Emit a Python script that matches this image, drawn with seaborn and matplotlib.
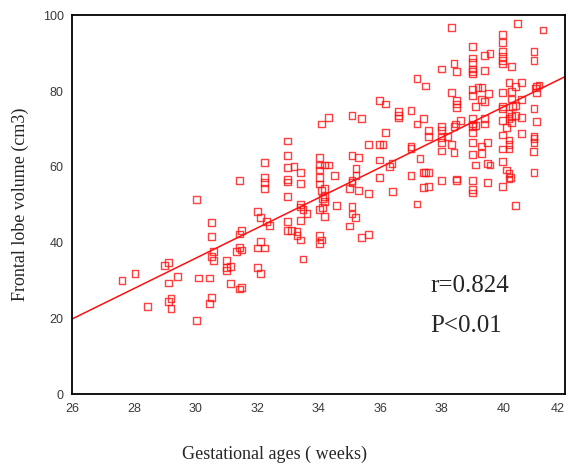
import matplotlib
matplotlib.use("Agg")
import matplotlib.pyplot as plt
import pandas as pd
import seaborn as sns

# --- Data (gestational age, frontal lobe volume) ---
ga_weeks = [
    27.62, 28.04, 28.45, 29.00, 29.14, 29.14, 29.21, 29.14, 29.21, 29.41,
    30.03, 30.03, 30.11, 30.45, 30.45, 30.51, 30.51, 30.51, 30.51, 30.60,
    30.60, 31.00, 31.00, 31.00, 31.13, 31.13, 31.34, 31.42, 31.42, 31.50,
    31.50, 31.42, 31.50, 31.42, 32.02, 32.10, 32.02, 32.10, 32.32, 32.40,
    32.10, 32.02, 32.23, 32.23, 32.23, 32.23, 32.23, 33.00, 33.00, 33.00,
    33.20, 33.40, 33.40, 33.00, 33.00, 33.00, 33.00, 33.00, 33.13, 33.30,
    33.30, 33.40, 33.49, 33.40, 33.40, 33.49, 33.62, 33.40,
    34.31, 34.10, 34.02, 34.02, 34.18, 34.31, 34.02, 34.02, 34.02, 34.10,
    34.18, 34.18, 34.13, 34.19, 34.02, 34.13, 34.19, 34.59, 34.02, 34.10,
    34.02, 34.51,
    35.08, 35.40, 35.08, 35.29, 35.21, 35.21, 35.08, 35.08, 35.00, 35.29,
    35.61, 35.08, 35.08, 35.20, 35.00, 35.40, 35.61, 35.61, 35.98, 36.09,
    35.98, 36.18, 36.18, 35.98, 36.38, 36.30, 35.98, 36.39,
    36.60, 36.60, 36.60, 37.00, 37.19, 37.41, 37.19, 37.48, 37.56, 37.56,
    37.00, 37.00, 37.29, 37.41, 37.48, 37.56, 37.00, 37.56, 37.41, 37.19,
    38.30, 37.98, 38.39, 38.47, 38.30, 38.47, 38.47, 38.47, 38.60, 38.43,
    38.39, 37.98, 37.98, 38.19, 37.98, 37.98, 38.30, 37.98, 38.39, 38.47,
    38.47, 37.98,
    39.00, 39.00, 39.00, 39.00, 39.00, 39.00, 39.37, 39.56, 39.37, 39.00,
    39.00, 39.17, 39.30, 39.50, 39.28, 39.37, 39.08, 39.00, 39.00, 39.00,
    39.08, 39.37, 39.37, 39.00, 39.00, 39.48, 39.28, 39.00, 39.28, 39.08,
    39.48, 39.56, 39.00, 39.48, 39.00, 39.00,
    40.46, 41.28, 39.97, 39.97, 39.97, 39.97, 39.97, 39.97, 40.25, 40.99,
    40.99, 39.97, 40.18, 40.38, 40.58, 40.25, 40.25, 40.58, 39.97, 39.97,
    40.38, 40.30, 41.07, 41.15, 41.07, 41.04, 40.99, 40.18, 40.25, 40.18,
    40.38, 40.58, 39.97, 40.25, 40.09, 41.07, 40.58, 39.97, 40.18, 40.18,
    40.18, 39.97, 40.99, 40.99, 40.99, 40.98, 40.99, 39.97, 40.09, 40.18,
    40.18, 40.22, 39.97, 40.38,
]
volume_cm3 = [
    30.1, 31.8, 23.2, 34.1, 34.8, 29.4, 25.2, 24.5, 22.6, 31.1,
    51.5, 19.6, 30.7, 30.7, 23.9, 25.5, 45.3, 41.7, 36.4, 37.6,
    35.4, 35.4, 33.5, 32.7, 33.8, 29.2, 37.7, 38.7, 42.3, 43.3,
    38.1, 27.8, 28.1, 56.4, 33.4, 31.8, 48.2, 46.7, 45.7, 44.6,
    40.3, 38.6, 38.6, 61.1, 57.3, 55.8, 54.2, 66.8, 63.1, 59.9,
    60.2, 58.6, 55.6, 56.7, 56.0, 52.2, 45.7, 43.3, 43.3, 43.0,
    41.9, 40.7, 35.7, 50.0, 49.4, 48.7, 47.7, 45.9,
    73.0, 71.3, 62.5, 60.5, 60.5, 60.5, 59.2, 57.1, 55.5, 53.8,
    54.2, 52.1, 51.6, 50.8, 48.7, 49.3, 47.0, 49.9, 42.0, 40.7,
    39.8, 57.8,
    73.6, 72.7, 63.1, 62.5, 59.5, 57.8, 56.5, 55.8, 54.2, 53.8,
    52.9, 49.6, 47.6, 46.7, 44.4, 41.4, 42.1, 66.0, 66.0, 66.0,
    77.6, 76.6, 69.0, 61.8, 60.8, 60.0, 57.2, 53.6,
    74.6, 73.6, 72.9, 74.9, 71.3, 72.7, 83.2, 81.3, 69.6, 68.1,
    65.4, 64.9, 62.2, 58.5, 58.5, 58.5, 57.8, 54.9, 54.6, 50.2,
    96.8, 85.8, 87.2, 85.2, 79.6, 77.4, 76.6, 75.7, 72.3, 71.3,
    70.6, 70.6, 69.7, 68.0, 67.7, 66.4, 66.0, 64.2, 63.8, 56.8,
    56.4, 56.4,
    91.8, 88.7, 87.6, 85.8, 85.1, 84.5, 89.4, 89.9, 85.4, 80.3,
    78.9, 80.9, 80.9, 79.3, 77.7, 77.3, 75.9, 72.7, 71.3, 70.6,
    71.0, 72.7, 71.3, 69.0, 66.4, 66.4, 65.5, 63.2, 63.5, 60.5,
    60.8, 60.5, 56.4, 55.8, 54.1, 53.1,
    97.8, 96.1, 94.8, 92.8, 90.4, 89.2, 88.0, 87.1, 86.5, 90.5,
    88.1, 79.6, 82.2, 81.2, 82.2, 79.9, 77.9, 77.7, 75.9, 75.3,
    76.2, 75.9, 81.3, 81.6, 79.6, 80.8, 75.3, 74.0, 73.3, 72.7,
    73.6, 73.0, 72.3, 71.7, 70.4, 72.0, 68.7, 68.4, 67.1, 66.0,
    64.7, 64.7, 68.0, 67.4, 66.4, 64.1, 58.5, 61.5, 59.2, 58.2,
    56.8, 57.3, 54.9, 49.9,
]

x_ticks = [26, 28, 30, 32, 34, 36, 38, 40, 42]
y_ticks = [0, 20, 40, 60, 80, 100]
stats_text = ["r=0.824", "P<0.01"]

df = pd.DataFrame({"ga": ga_weeks, "volume": volume_cm3})

sns.set_style("white")
plt.rcParams["font.family"] = ["Liberation Sans Narrow", "Liberation Sans", "DejaVu Sans"]

fig = plt.figure(figsize=(5.68, 4.73), dpi=100)
ax = fig.add_axes([0.127, 0.166, 0.868, 0.802])
ax.set_xlim(26, 42)
ax.set_ylim(0, 100)

sns.regplot(
    data=df, x="ga", y="volume", ax=ax, ci=None, truncate=False,
    marker="s",
    scatter_kws=dict(s=24, facecolors="none", edgecolors="#ff1010", linewidths=1.0),
    line_kws=dict(color="#ff1010", lw=1.1),
)

ax.set_xlim(26, 42)
ax.set_ylim(0, 100)
ax.set_xticks(x_ticks)
ax.set_yticks(y_ticks)
ax.tick_params(direction="out", length=3, width=2.5, color="black",
               labelsize=9, labelcolor="#3a3a3a", pad=3)
# last x label sits at the figure edge: pull it inside so it is not clipped
ax.get_xticklabels()[-1].set_horizontalalignment("right")
for sp in ax.spines.values():
    sp.set_color("black")
    sp.set_linewidth(1.3)

serif = ["Liberation Serif", "DejaVu Serif"]
ax.set_xlabel("Gestational ages ( weeks)", fontsize=13, family=serif)
ax.xaxis.set_label_coords(0.41, -0.135)
ax.set_ylabel("Frontal lobe volume (cm3)", fontsize=13, family=serif)
ax.yaxis.set_label_coords(-0.088, 0.5)

ax.text(37.62, 27.0, stats_text[0], fontsize=18, family=serif, ha="left", va="baseline")
ax.text(37.62, 16.4, stats_text[1], fontsize=18, family=serif, ha="left", va="baseline")

fig.savefig("out.png", dpi=100)
